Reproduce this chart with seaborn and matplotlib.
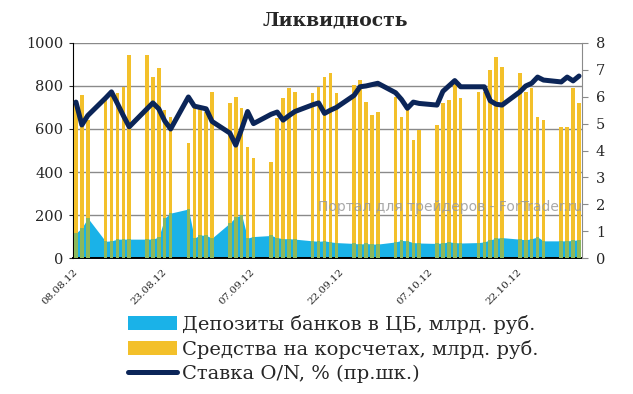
import pandas as pd
import numpy as np
import matplotlib.pyplot as plt
import seaborn as sns
from matplotlib.patches import Patch
from matplotlib.lines import Line2D

# business days 08.08.12 - 01.11.12
start_date = "2012-08-08"
end_date = "2012-11-01"
tick_labels = ["08.08.12", "23.08.12", "07.09.12", "22.09.12", "07.10.12", "22.10.12"]

deposits = [116, 140, 186,
            78, 80, 88, 88, 88,
            88, 88, 98, 186, 209,
            228, 93, 107, 105, 93,
            163, 191, 200, 93, 100,
            105, 95, 90, 90, 88,
            80, 78, 80, 75, 72,
            68, 65, 68, 65, 65,
            75, 82, 80, 72, 70,
            68, 70, 75, 72, 70,
            72, 75, 85, 92, 95,
            88, 85, 90, 98, 80,
            80, 80, 82, 85]

accounts = [720, 758, 640,
            744, 772, 767, 795, 944,
            944, 842, 884, 688, 656,
            535, 698, 700, 679, 772,
            721, 749, 698, 516, 465,
            447, 651, 744, 791, 772,
            767, 795, 842, 860, 767,
            805, 828, 726, 665, 679,
            749, 656, 688, 549, 595,
            619, 721, 735, 828, 744,
            772, 772, 874, 935, 888,
            860, 772, 791, 656, 642,
            609, 609, 791, 721]

rate_on = [5.8, 4.95, 5.3,
           5.95, 6.18, 5.75, 5.3, 4.88,
           5.55, 5.77, 5.55, 5.1, 4.8,
           5.99, 5.65, 5.6, 5.55, 5.08,
           4.65, 4.2, 4.8, 5.45, 5.0,
           5.35, 5.43, 5.13, 5.3, 5.45,
           5.7, 5.77, 5.38, 5.5, 5.6,
           6.05, 6.37, 6.4, 6.45, 6.5,
           6.15, 5.9, 5.57, 5.8, 5.75,
           5.69, 6.2, 6.4, 6.6, 6.37,
           6.37, 6.37, 5.85, 5.72, 5.69,
           6.18, 6.4, 6.5, 6.73, 6.62,
           6.55, 6.73, 6.59, 6.77]

dates = pd.bdate_range(start_date, end_date)
t0 = pd.Timestamp(start_date)
df = pd.DataFrame({
    "day": (dates - t0).days + 0.5,
    "deposits": deposits,
    "accounts": accounts,
    "rate": rate_on,
})
# part of each yellow bar that lies over the blue area looks green
df["overlap"] = np.minimum(df["deposits"], df["accounts"])

blue = "#1AB2E8"
yellow = "#F3C02A"
green = "#8CB85C"
navy = "#0B2558"
serif = "DejaVu Serif"

sns.set_style("white")
plt.rcParams["font.family"] = serif

fig = plt.figure(figsize=(6.33, 3.94), dpi=100)
ax = fig.add_axes([0.1153, 0.345, 0.8041, 0.546])

ax.fill_between(df["day"], df["deposits"], color=blue, lw=0, zorder=2)
sns.barplot(data=df, x="day", y="accounts", native_scale=True, width=0.6,
            color=yellow, saturation=1, linewidth=0, ax=ax, zorder=3)
sns.barplot(data=df, x="day", y="overlap", native_scale=True, width=0.6,
            color=green, saturation=1, linewidth=0, ax=ax, zorder=4)

ax.set_xlim(0, 86)
ax.set_ylim(0, 1000)
ax.set_yticks(np.arange(0, 1001, 200))
ax.yaxis.grid(True, color="#8a8a8a", lw=1)
ax.set_axisbelow(True)
ax.set_xlabel("")
ax.set_ylabel("")
tick_pos = [(pd.to_datetime(t, format="%d.%m.%y") - t0).days for t in tick_labels]
ax.set_xticks(tick_pos)
ax.set_xticklabels(tick_labels, rotation=45, ha="right", va="top", fontsize=7.5,
                   rotation_mode="anchor")
ax.tick_params(axis="x", direction="out", length=4, width=1.2, color="black", pad=3)
ax.tick_params(axis="y", direction="out", length=3, labelsize=10.5, pad=4)
for s in ["top", "right"]:
    ax.spines[s].set_visible(False)
ax.spines["left"].set_color("black")
ax.spines["bottom"].set_color("black")
ax.spines["bottom"].set_linewidth(1.4)

ax2 = ax.twinx()
sns.lineplot(data=df, x="day", y="rate", color=navy, lw=3.6, ax=ax2, zorder=5)
ax2.set_ylim(0, 8)
ax2.set_xlim(0, 86)
ax2.set_yticks(range(0, 9))
ax2.set_ylabel("")
ax2.tick_params(axis="y", direction="out", length=4, labelsize=10.5, color="#8a8a8a", pad=6)
for s in ["top", "left", "bottom"]:
    ax2.spines[s].set_visible(False)
ax2.spines["right"].set_color("#8a8a8a")

fig.text(0.53, 0.948, "Ликвидность", ha="center", va="center",
         fontsize=13.5, fontweight="bold")
fig.text(0.502, 0.474, "Портал для трейдеров - ForTrader.ru", ha="left", va="center",
         fontsize=10, color="#9a9a9a", family="DejaVu Sans", alpha=0.85, zorder=10)

handles = [Patch(facecolor=blue, edgecolor="none"),
           Patch(facecolor=yellow, edgecolor="none"),
           Line2D([0], [0], color=navy, lw=3.6)]
labels = ["Депозиты банков в ЦБ, млрд. руб.",
          "Средства на корсчетах, млрд. руб.",
          "Ставка O/N, % (пр.шк.)"]
fig.legend(handles, labels, loc="upper left", bbox_to_anchor=(0.19, 0.22),
           frameon=False, fontsize=14, handlelength=2.5, handleheight=0.75,
           handletextpad=0.25, labelspacing=0.3, borderaxespad=0)

fig.savefig("out.png", dpi=100)
